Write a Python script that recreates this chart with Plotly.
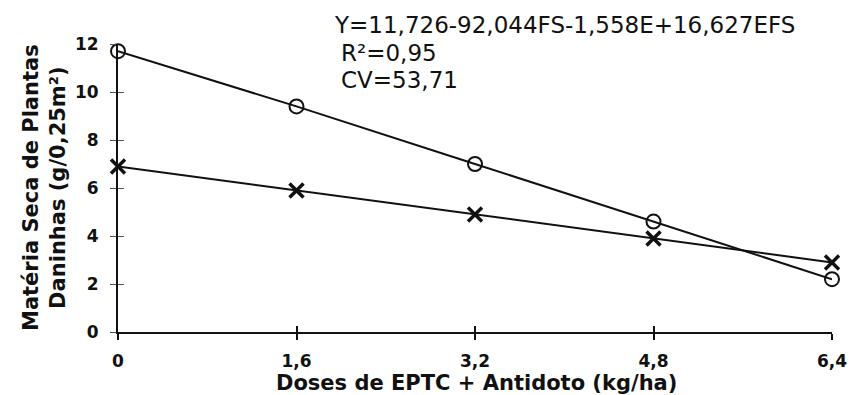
import plotly.graph_objects as go

doses = [0, 1.6, 3.2, 4.8, 6.4]
serie_circulo = [11.7, 9.4, 7.0, 4.6, 2.2]
serie_x = [6.9, 5.9, 4.9, 3.9, 2.9]
x_ticks = [0, 1.6, 3.2, 4.8, 6.4]
x_ticklabels = ["0", "1,6", "3,2", "4,8", "6,4"]
y_ticks = [0, 2, 4, 6, 8, 10, 12]

FONT = "DejaVu Sans"
INK = "#111111"

fig = go.Figure()
fig.add_trace(go.Scatter(
    x=doses, y=serie_circulo, mode="lines+markers", cliponaxis=False,
    line=dict(color=INK, width=2),
    marker=dict(symbol="circle-open", size=14, color=INK, line=dict(width=2, color=INK)),
    showlegend=False))
fig.add_trace(go.Scatter(
    x=doses, y=serie_x, mode="lines+markers", cliponaxis=False,
    line=dict(color=INK, width=2),
    marker=dict(symbol="x-thin-open", size=14, color=INK, line=dict(width=3.5, color=INK)),
    showlegend=False))
# invisible trace to carry the inner-tick overlay axes
fig.add_trace(go.Scatter(x=doses, y=serie_x, xaxis="x2", yaxis="y2", mode="none",
                         showlegend=False, hoverinfo="skip"))

fig.update_layout(
    width=859, height=395,
    margin=dict(l=118, r=21, t=44, b=63),
    paper_bgcolor="white", plot_bgcolor="white",
    font=dict(family=FONT, color=INK),
    xaxis=dict(range=[0, 6.4], tickvals=x_ticks, ticktext=x_ticklabels,
               showgrid=False, zeroline=False, showline=True, linecolor=INK, linewidth=1.5,
               ticks="outside", ticklen=6, tickwidth=2, tickcolor=INK,
               tickfont=dict(family=FONT, size=17, weight="bold", color=INK),
               ticklabelstandoff=7),
    yaxis=dict(range=[0, 12], tickvals=y_ticks,
               showgrid=False, zeroline=False, showline=True, linecolor=INK, linewidth=2,
               ticks="outside", ticklen=6, tickwidth=1, tickcolor="#555555",
               tickfont=dict(family=FONT, size=17, weight="bold", color=INK),
               ticklabelstandoff=8),
    xaxis2=dict(range=[0, 6.4], tickvals=x_ticks, overlaying="x", anchor="y2",
                showticklabels=False, showgrid=False, zeroline=False, showline=False,
                ticks="inside", ticklen=6, tickwidth=2, tickcolor=INK),
    yaxis2=dict(range=[0, 12], tickvals=y_ticks, overlaying="y", anchor="x2",
                showticklabels=False, showgrid=False, zeroline=False, showline=False,
                ticks="inside", ticklen=6, tickwidth=1, tickcolor="#555555"),
)

annots = [
    dict(text="Y=11,726-92,044FS-1,558E+16,627EFS", xshift=332 - 118, yshift=-(25 - 44)),
    dict(text="R²=0,95", xshift=339 - 118, yshift=-(53 - 44)),
    dict(text="CV=53,71", xshift=339 - 118, yshift=-(80 - 44)),
]
for a in annots:
    fig.add_annotation(x=0, y=1, xref="paper", yref="paper", xanchor="left", yanchor="middle",
                       showarrow=False, text=a["text"], xshift=a["xshift"], yshift=a["yshift"],
                       font=dict(family=FONT, size=23, color=INK))

fig.add_annotation(x=0, y=0.5, xref="paper", yref="paper", xanchor="center", yanchor="middle",
                   xshift=44 - 118, showarrow=False, textangle=-90,
                   text="Matéria Seca de Plantas<br>Daninhas (g/0,25m²)",
                   font=dict(family=FONT, size=21, weight="bold", color=INK))
fig.add_annotation(x=(480 - 118) / 720, y=0, xref="paper", yref="paper", xanchor="center",
                   yanchor="middle", yshift=-51, showarrow=False,
                   text="Doses de EPTC + Antidoto (kg/ha)",
                   font=dict(family=FONT, size=21, weight="bold", color=INK))

fig.write_html("out.html")
